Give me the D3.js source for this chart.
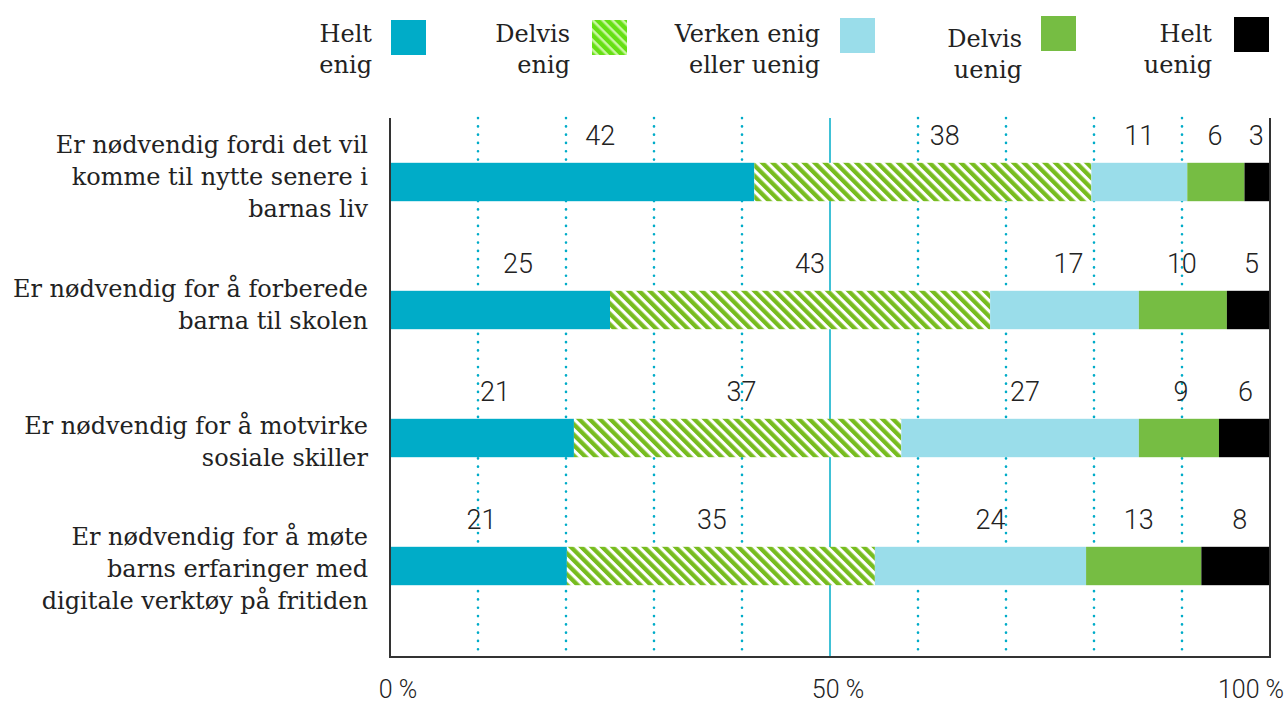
<!DOCTYPE html>
<html>
<head>
<meta charset="utf-8">
<script src="https://cdn.jsdelivr.net/npm/d3@7"></script>
<style>
  body { margin: 0; background: #fff; }
  svg { display: block; }
  .cat-label { font-family: "DejaVu Serif", serif; font-size: 24px; fill: #222; }
  .legend-label { font-family: "DejaVu Serif", serif; font-size: 24px; fill: #222; }
  .value-label { font-family: Roboto, sans-serif; font-weight: 300; font-size: 27px; fill: #222; }
  .tick-label { font-family: Roboto, sans-serif; font-weight: 300; font-size: 25px; fill: #222; }
</style>
</head>
<body>
<div id="chart"></div>
<script>
// categories (one per row), split in lines as in the picture
const categories = [
  ['Er nødvendig fordi det vil', 'komme til nytte senere i', 'barnas liv'],
  ['Er nødvendig for å forberede', 'barna til skolen'],
  ['Er nødvendig for å motvirke', 'sosiale skiller'],
  ['Er nødvendig for å møte', 'barns erfaringer med', 'digitale verktøy på fritiden']
];

const seriesNames = ['Helt enig', 'Delvis enig', 'Verken enig eller uenig', 'Delvis uenig', 'Helt uenig'];
const legendLines = [['Helt', 'enig'], ['Delvis', 'enig'], ['Verken enig', 'eller uenig'], ['Delvis', 'uenig'], ['Helt', 'uenig']];

// bar shares (percent), one array per series
const heltEnig = [41.4, 25.0, 20.9, 20.1];
const delvisEnig = [38.3, 43.2, 37.2, 35.0];
const verken = [10.9, 16.9, 27.0, 24.0];
const delvisUenig = [6.5, 10.0, 9.1, 13.1];
const heltUenig = [2.9, 4.9, 5.8, 7.8];

// printed labels
const heltEnigLbl = [42, 25, 21, 21];
const delvisEnigLbl = [38, 43, 37, 35];
const verkenLbl = [11, 17, 27, 24];
const delvisUenigLbl = [6, 10, 9, 13];
const heltUenigLbl = [3, 5, 6, 8];

const xTicks = [0, 50, 100];
const gridTicks = [10, 20, 30, 40, 50, 60, 70, 80, 90];

const values = [heltEnig, delvisEnig, verken, delvisUenig, heltUenig];
const labels = [heltEnigLbl, delvisEnigLbl, verkenLbl, delvisUenigLbl, heltUenigLbl];
const colors = ['#00acc8', 'url(#hatch)', '#9addea', '#76bd43', '#000000'];
const legendFill = ['#00acc8', 'url(#hatch-legend)', '#9addea', '#76bd43', '#000000'];

// label nudges (px) per row, per series, as placed in the original
const labelDx = [
  [28, 22, 0, -1, -1],
  [18, 10, 4, -1, 3],
  [13, 4, 5, 2, 1],
  [3, -9, 10, -5, 4]
];

const W = 1285, H = 706;
const margin = { top: 118, right: 15, bottom: 49, left: 390 };
const plotBottom = H - margin.bottom;

const svg = d3.select('#chart').append('svg')
  .attr('width', W)
  .attr('height', H);

const defs = svg.append('defs');
const hatch = defs.append('pattern')
  .attr('id', 'hatch')
  .attr('patternUnits', 'userSpaceOnUse')
  .attr('width', 7.4)
  .attr('height', 10)
  .attr('patternTransform', 'rotate(-45)');
hatch.append('rect').attr('width', 7.4).attr('height', 10).attr('fill', '#fff');
hatch.append('rect').attr('width', 4.3).attr('height', 10).attr('fill', '#77bc1f');

const hatchL = defs.append('pattern')
  .attr('id', 'hatch-legend')
  .attr('patternUnits', 'userSpaceOnUse')
  .attr('width', 7)
  .attr('height', 10)
  .attr('patternTransform', 'rotate(-45)');
hatchL.append('rect').attr('width', 7).attr('height', 10).attr('fill', '#c8f7a0');
hatchL.append('rect').attr('width', 4.5).attr('height', 10).attr('fill', '#66e014');

const x = d3.scaleLinear()
  .domain([0, 100])
  .range([margin.left, W - margin.right]);

const y = d3.scaleBand()
  .domain(d3.range(categories.length))
  .range([margin.top, 630])
  .paddingInner(0.7)
  .paddingOuter(0.35);

// grid lines
svg.append('g')
  .selectAll('line')
  .data(gridTicks)
  .join('line')
  .attr('x1', d => x(d))
  .attr('x2', d => x(d))
  .attr('y1', margin.top)
  .attr('y2', plotBottom)
  .attr('stroke', '#00acc8')
  .attr('stroke-width', d => d === 50 ? 1.5 : 2.6)
  .attr('stroke-linecap', d => d === 50 ? 'butt' : 'round')
  .attr('stroke-dasharray', d => d === 50 ? null : '0.1,8.2');

// stacked bars
const stacked = categories.map((c, i) => {
  let acc = 0;
  return values.map((s, j) => {
    const seg = { row: i, series: j, x0: acc, x1: acc + s[i], label: labels[j][i] };
    acc += s[i];
    return seg;
  });
}).flat();

svg.append('g')
  .selectAll('rect')
  .data(stacked)
  .join('rect')
  .attr('x', d => x(d.x0))
  .attr('width', d => x(d.x1) - x(d.x0))
  .attr('y', d => y(d.row))
  .attr('height', y.bandwidth())
  .attr('fill', d => colors[d.series]);

svg.append('g')
  .selectAll('text')
  .data(stacked)
  .join('text')
  .attr('class', 'value-label')
  .attr('text-anchor', 'middle')
  .attr('x', d => x((d.x0 + d.x1) / 2) + labelDx[d.row][d.series])
  .attr('y', d => y(d.row) - 18)
  .text(d => d.label);

// axis frame: left, bottom, right
svg.append('path')
  .attr('d', `M${x(0)},${margin.top}V${plotBottom}H${x(100)}V${margin.top}`)
  .attr('fill', 'none')
  .attr('stroke', '#333')
  .attr('stroke-width', 2);

svg.append('g')
  .selectAll('text')
  .data(xTicks)
  .join('text')
  .attr('class', 'tick-label')
  .attr('text-anchor', 'middle')
  .attr('x', d => Math.min(x(d) + 8, W - 34))
  .attr('y', 698)
  .text(d => d + ' %');

// category labels
const lineH = 32;
const labelShift = [0, 0, 9, 8];
const catG = svg.append('g')
  .selectAll('text')
  .data(categories)
  .join('text')
  .attr('class', 'cat-label')
  .attr('text-anchor', 'end')
  .attr('x', 368)
  .attr('y', (d, i) => y(i) + y.bandwidth() / 2 - (d.length - 1) * lineH / 2 + 3 + labelShift[i]);
catG.selectAll('tspan')
  .data(d => d)
  .join('tspan')
  .attr('x', 368)
  .attr('dy', (d, i) => i === 0 ? 0 : lineH)
  .text(d => d);

// legend
const legendTextX = [372, 570, 820, 1022, 1212];
const legendBoxX = [391, 592, 840, 1041, 1234];
const legendBoxY = [20, 20, 18, 16, 17];
const legendTextY = [42, 42, 42, 47, 42];

const legend = svg.append('g')
  .selectAll('g')
  .data(seriesNames)
  .join('g');

legend.append('rect')
  .attr('x', (d, i) => legendBoxX[i])
  .attr('y', (d, i) => legendBoxY[i])
  .attr('width', 35)
  .attr('height', 35)
  .attr('fill', (d, i) => legendFill[i]);

legend.append('text')
  .attr('class', 'legend-label')
  .attr('text-anchor', 'end')
  .attr('y', (d, i) => legendTextY[i])
  .selectAll('tspan')
  .data((d, i) => legendLines[i].map(t => ({ t, i })))
  .join('tspan')
  .attr('x', d => legendTextX[d.i])
  .attr('dy', (d, k) => k === 0 ? 0 : 31)
  .text(d => d.t);
</script>
</body>
</html>
